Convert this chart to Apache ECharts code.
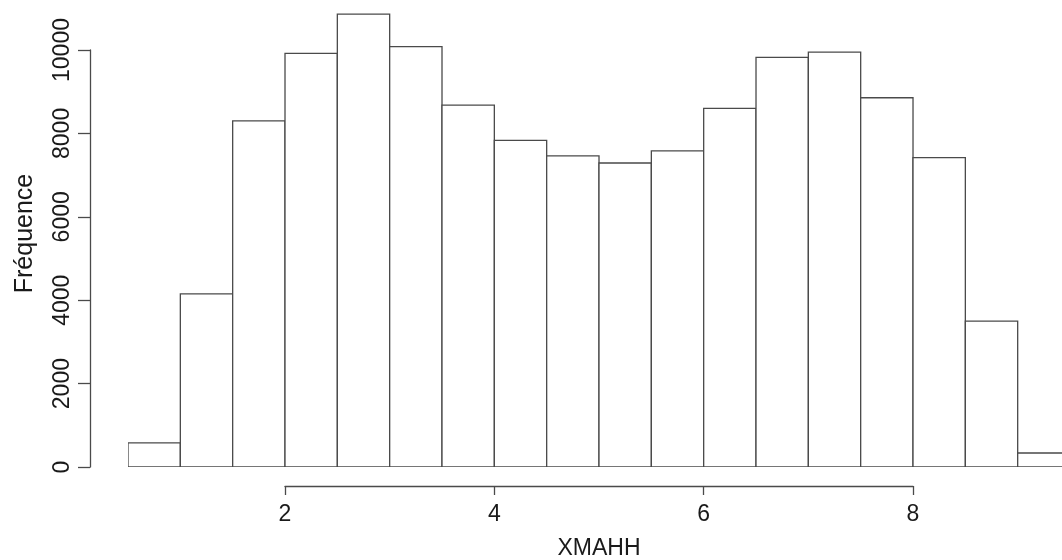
<!DOCTYPE html>
<html>
<head>
<meta charset="utf-8">
<script src="https://cdn.jsdelivr.net/npm/echarts@6/dist/echarts.min.js"></script>
<style>
html,body{margin:0;padding:0;background:#fff;}
#chart{width:1062px;height:560px;}
</style>
</head>
<body>
<div id="chart"></div>
<script>
// Histogram bin edges (left/right) and counts
const binLeft = [0.5, 1.0, 1.5, 2.0, 2.5, 3.0, 3.5, 4.0, 4.5, 5.0, 5.5, 6.0, 6.5, 7.0, 7.5, 8.0, 8.5, 9.0];
const binRight = [1.0, 1.5, 2.0, 2.5, 3.0, 3.5, 4.0, 4.5, 5.0, 5.5, 6.0, 6.5, 7.0, 7.5, 8.0, 8.5, 9.0, 9.5];
const counts = [580, 4150, 8300, 9920, 10860, 10080, 8680, 7835, 7460, 7290, 7580, 8600, 9825, 9950, 8855, 7420, 3500, 336];
const xTicks = [2, 4, 6, 8];
const yTicks = [0, 2000, 4000, 6000, 8000, 10000];
const xTitle = 'XMAHH';
const yTitle = 'Fréquence';

const data = binLeft.map((l, i) => [l, binRight[i], counts[i]]);
const lineColor = '#4a4a4a';
const textColor = '#1a1a1a';
const fontFamily = 'Liberation Sans, Arial, sans-serif';
const fs = 23;

const chart = echarts.init(document.getElementById('chart'), null, {renderer: 'canvas'});
chart.setOption({
  animation: false,
  backgroundColor: '#fff',
  grid: [
    {left: 128, right: 0, top: 0, bottom: 93, containLabel: false, outerBoundsMode: 'none'},
    {left: 285, right: 149, top: 50, bottom: 93, containLabel: false, outerBoundsMode: 'none'}
  ],
  xAxis: [
    {gridIndex: 0, type: 'value', min: 0.5, max: 9.4234, show: false},
    {gridIndex: 1, type: 'value', min: xTicks[0], max: xTicks[xTicks.length - 1], interval: 2,
     offset: 19,
     axisLine: {show: true, onZero: false, lineStyle: {color: lineColor, width: 1.3}},
     axisTick: {show: true, length: 9, lineStyle: {color: lineColor, width: 1.3}},
     axisLabel: {margin: 17, color: textColor, fontSize: fs, fontFamily: fontFamily,
       formatter: v => xTicks.includes(v) ? String(v) : ''},
     splitLine: {show: false},
     name: xTitle, nameLocation: 'middle', nameGap: 51,
     nameTextStyle: {color: textColor, fontSize: fs, fontFamily: fontFamily}
    }
  ],
  yAxis: [
    {gridIndex: 0, type: 'value', min: 0, max: 11199,
     axisLine: {show: false}, axisTick: {show: false}, axisLabel: {show: false}, splitLine: {show: false},
     name: yTitle, nameLocation: 'middle', nameRotate: 90, nameGap: 90,
     nameTextStyle: {color: textColor, fontSize: 25, fontFamily: fontFamily}
    },
    {gridIndex: 1, type: 'value', min: 0, max: 10000, interval: 2000,
     offset: 195,
     axisLine: {show: true, lineStyle: {color: lineColor, width: 1.3}},
     axisTick: {show: true, length: 12, lineStyle: {color: lineColor, width: 1.3}},
     axisLabel: {rotate: 90, margin: 16, color: textColor, fontSize: fs, fontFamily: fontFamily,
       formatter: v => yTicks.includes(v) ? String(v) : ''},
     splitLine: {show: false}
    }
  ],
  series: [{
    type: 'custom',
    xAxisIndex: 0,
    yAxisIndex: 0,
    clip: true,
    data: data,
    encode: {x: [0, 1], y: 2},
    renderItem: function (params, api) {
      const p0 = api.coord([api.value(0), api.value(2)]);
      const p1 = api.coord([api.value(1), 0]);
      return {
        type: 'rect',
        shape: {x: p0[0], y: p0[1], width: p1[0] - p0[0], height: p1[1] - p0[1]},
        style: {fill: '#ffffff', stroke: lineColor, lineWidth: 1.3}
      };
    }
  }]
});
</script>
</body>
</html>
